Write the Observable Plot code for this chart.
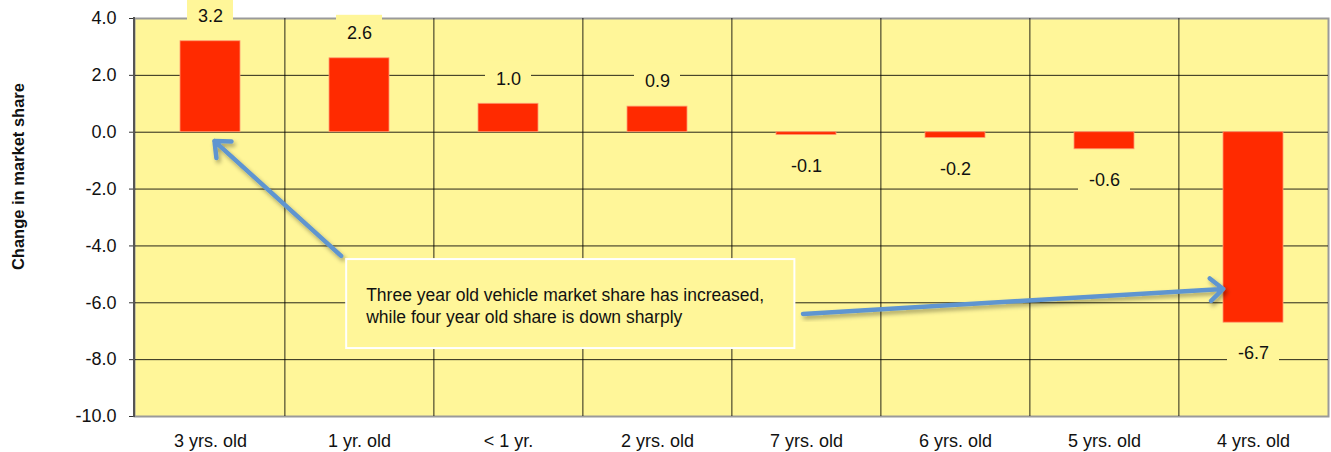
<!DOCTYPE html>
<html>
<head>
<meta charset="utf-8">
<script src="https://cdn.jsdelivr.net/npm/d3@7"></script>
<script src="https://cdn.jsdelivr.net/npm/@observablehq/plot@0.6"></script>
<style>
  html, body { margin: 0; padding: 0; background: #fff; }
  #chart svg { display: block; }
</style>
</head>
<body>
<div id="chart"></div>
<script>
// ---- data ----
const categories = ["3 yrs. old", "1 yr. old", "< 1 yr.", "2 yrs. old", "7 yrs. old", "6 yrs. old", "5 yrs. old", "4 yrs. old"];
const values = [3.2, 2.6, 1.0, 0.9, -0.1, -0.2, -0.6, -6.7];
const yTicks = [4, 2, 0, -2, -4, -6, -8, -10];
const yLabel = "Change in market share";
const noteLines = ["Three year old vehicle market share has increased,", "while four year old share is down sharply"];
// annotation anchors: [category index (fractional), value]
const noteBox = { x1: 0.914, x2: 3.922, y1: -4.48, y2: -7.61 };
const arrowFrom = [[0.88, -4.37], [3.98, -6.41]];
const arrowTo = [[0.03, -0.33], [6.80, -5.53]];

const data = categories.map((c, i) => ({ cat: c, value: values[i] }));
const pos = data.filter(d => d.value >= 0);
const neg = data.filter(d => d.value < 0);

const W = 1331, H = 452;
const mL = 134, mR = 3, mT = 18, mB = 36;
const step = (W - mL - mR) / categories.length;

const font = "'Liberation Sans', Arial, sans-serif";
const yellow = "#FFF699";
const red = "#FF2A00";
const blue = "#5F95D0";

function annotations(index, scales, vals, dims) {
  const x = scales.x, y = scales.y;
  const bw = typeof x.bandwidth === "function" ? x.bandwidth() : x.bandwidth;
  const st = x(categories[1]) - x(categories[0]);
  const cx = f => x(categories[0]) + bw / 2 + f * st;
  const g = d3.create("svg:g");
  // left axis line
  g.append("line")
    .attr("x1", dims.marginLeft).attr("x2", dims.marginLeft)
    .attr("y1", dims.marginTop - 1).attr("y2", dims.height - dims.marginBottom + 1)
    .attr("stroke", "#555").attr("stroke-width", 2);
  // y axis title
  g.append("text")
    .attr("transform", `translate(18,${(y(yTicks[1]) + y(yTicks[5])) / 2 - 12}) rotate(-90)`)
    .attr("text-anchor", "middle").attr("dy", "0.35em")
    .attr("font-family", font).attr("font-weight", "bold").attr("font-size", 16.5).attr("fill", "#111")
    .text(yLabel);
  const defs = g.append("defs");
  const f = defs.append("filter").attr("id", "shadow").attr("x", "-20%").attr("y", "-20%").attr("width", "140%").attr("height", "140%");
  f.append("feDropShadow").attr("dx", 2).attr("dy", 3).attr("stdDeviation", 2)
    .attr("flood-color", "#000").attr("flood-opacity", 0.35);
  // arrows
  arrowFrom.forEach((a, i) => {
    const b = arrowTo[i];
    const x1 = cx(a[0]), y1 = y(a[1]), x2 = cx(b[0]), y2 = y(b[1]);
    const ang = Math.atan2(y2 - y1, x2 - x1);
    const L = 17, sp = 0.72;
    const p1 = [x2 - L * Math.cos(ang - sp), y2 - L * Math.sin(ang - sp)];
    const p2 = [x2 - L * Math.cos(ang + sp), y2 - L * Math.sin(ang + sp)];
    g.append("path")
      .attr("d", `M${x1},${y1}L${x2},${y2}M${p1[0]},${p1[1]}L${x2},${y2}L${p2[0]},${p2[1]}`)
      .attr("fill", "none").attr("stroke", blue).attr("stroke-width", 4.5)
      .attr("stroke-linecap", "round").attr("stroke-linejoin", "round")
      .attr("filter", "url(#shadow)");
  });
  // note box
  const bx1 = cx(noteBox.x1), bx2 = cx(noteBox.x2), by1 = y(noteBox.y1), by2 = y(noteBox.y2);
  g.append("rect")
    .attr("x", bx1).attr("y", by1).attr("width", bx2 - bx1).attr("height", by2 - by1)
    .attr("fill", yellow).attr("stroke", "#fff").attr("stroke-width", 2);
  noteLines.forEach((t, i) => {
    g.append("text")
      .attr("x", bx1 + 20).attr("y", by1 + 36 + i * 22)
      .attr("dy", "0.35em").attr("text-anchor", "start")
      .attr("font-family", font).attr("font-size", 17.5).attr("fill", "#111")
      .text(t);
  });
  return g.node();
}

const chart = Plot.plot({
  width: W,
  height: H,
  marginLeft: mL,
  marginRight: mR,
  marginTop: mT,
  marginBottom: mB,
  style: { fontFamily: font, fontSize: "18px", background: "#fff", overflow: "visible" },
  x: { domain: categories, paddingInner: 0.6, paddingOuter: 0.3 },
  y: { domain: [-10, 4] },
  marks: [
    Plot.frame({ fill: yellow, stroke: "#9a9a9a", strokeWidth: 2 }),
    Plot.gridY(yTicks.filter(t => t > -10 && t < 4), { stroke: "#000", strokeOpacity: 0.85, strokeWidth: 1 }),
    Plot.ruleX(categories.slice(1), { x: d => d, dx: -step / 2, stroke: "#000", strokeOpacity: 0.85, strokeWidth: 1 }),
    Plot.barY(data, { x: "cat", y: "value", fill: red, stroke: "#FF9A70", strokeWidth: 0.8 }),
    // label backgrounds
    Plot.barY(pos, { x: "cat", y1: "value", y2: "value", fill: yellow, insetLeft: 7, insetRight: 7, insetTop: -18, insetBottom: -18, dy: -25 }),
    Plot.barY(neg, { x: "cat", y1: "value", y2: "value", fill: yellow, insetLeft: 4, insetRight: 4, insetTop: -14, insetBottom: -14, dy: 31 }),
    Plot.text(pos, { x: "cat", y: "value", text: d => d.value.toFixed(1), dy: -25, fill: "#111", fontSize: 18 }),
    Plot.text(neg, { x: "cat", y: "value", text: d => d.value.toFixed(1), dy: 31, fill: "#111", fontSize: 18 }),
    Plot.axisY({ ticks: yTicks, tickSize: 5, tickPadding: 13, tickFormat: d => d.toFixed(1), label: null, fontSize: 18, fill: "#111", stroke: "#333" }),
    Plot.axisX({ tickSize: 0, tickPadding: 18, label: null, fontSize: 18, fill: "#111" }),
    annotations
  ]
});
document.getElementById("chart").appendChild(chart);
</script>
</body>
</html>
